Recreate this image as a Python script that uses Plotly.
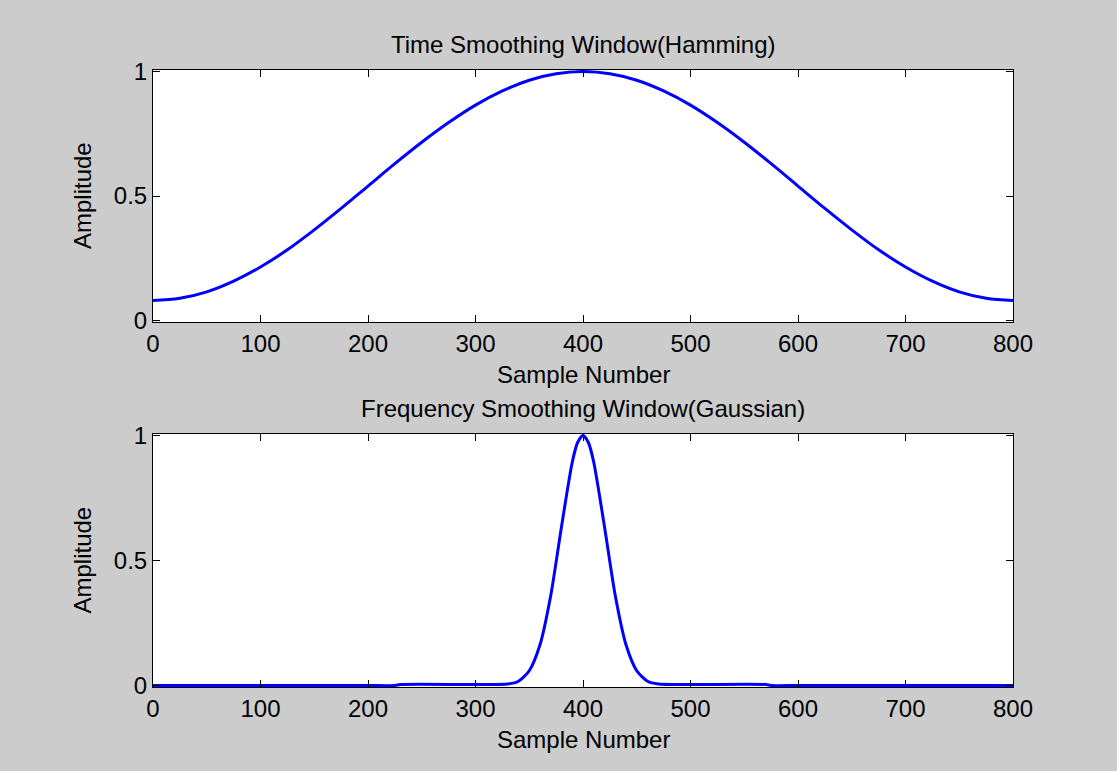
import plotly.graph_objects as go
from plotly.subplots import make_subplots

# Time smoothing window (Hamming), sampled every 25 samples
time_x = [0, 25, 50, 75, 100, 125, 150, 175, 200, 225, 250, 275, 300, 325, 350, 375,
          400, 425, 450, 475, 500, 525, 550, 575, 600, 625, 650, 675, 700, 725, 750, 775, 800]
time_y = [0.08, 0.089, 0.115, 0.158, 0.215, 0.284, 0.364, 0.45, 0.54, 0.63, 0.716, 0.795,
          0.865, 0.922, 0.965, 0.991, 1.0, 0.991, 0.965, 0.922, 0.865, 0.795, 0.716, 0.63,
          0.54, 0.45, 0.364, 0.284, 0.215, 0.158, 0.115, 0.089, 0.08]

# Frequency smoothing window (Gaussian), centred on sample 400
freq_x = [0, 100, 200, 225, 230, 300, 330, 340, 350, 360, 370, 380, 390, 395, 400, 405,
          410, 420, 430, 440, 450, 460, 470, 500, 570, 575, 600, 700, 800]
freq_y = [0.0, 0.0, 0.0, 0.0, 0.004, 0.004, 0.006, 0.017, 0.059, 0.163, 0.36, 0.635, 0.893,
          0.972, 1.0, 0.972, 0.893, 0.635, 0.36, 0.163, 0.059, 0.017, 0.006, 0.004, 0.004,
          0.0, 0.0, 0.0, 0.0]

x_ticks = [0, 100, 200, 300, 400, 500, 600, 700, 800]
y_ticks = [0, 0.5, 1]

titles = ["Time Smoothing Window(Hamming)", "Frequency Smoothing Window(Gaussian)"]
x_label = "Sample Number"
y_label = "Amplitude"

W, H = 1117, 771
FONT = "Liberation Sans, Arial, Helvetica, sans-serif"
FS = 24

fig = make_subplots(rows=2, cols=1)
fig.add_trace(go.Scatter(x=time_x, y=time_y, mode="lines", line_shape="spline",
                         line=dict(color="#0000ff", width=3)), row=1, col=1)
fig.add_trace(go.Scatter(x=freq_x, y=freq_y, mode="lines", line_shape="spline",
                         line=dict(color="#0000ff", width=3, smoothing=0.7)), row=2, col=1)

x_dom = [153 / W, 1013 / W]
y_doms = [[1 - 322 / H, 1 - 70 / H], [1 - 687 / H, 1 - 434 / H]]

axis_common = dict(showgrid=False, zeroline=False, showline=True, linecolor="black",
                   linewidth=1, mirror="ticks", ticks="inside", ticklen=7,
                   tickcolor="black", tickwidth=1, automargin=False,
                   tickfont=dict(family=FONT, size=FS, color="black"))

for i, (xa, ya) in enumerate([("xaxis", "yaxis"), ("xaxis2", "yaxis2")]):
    fig.layout[xa].update(domain=x_dom, range=[0, 800], tickvals=x_ticks,
                          ticktext=[str(v) for v in x_ticks], **axis_common)
    fig.layout[ya].update(domain=y_doms[i], range=[-0.006, 1.006], tickvals=y_ticks,
                          ticktext=["0", "0.5", "1"], **axis_common)

annotations = []
for i, dom in enumerate(y_doms):
    xc = (x_dom[0] + x_dom[1]) / 2
    annotations.append(dict(text=titles[i], x=xc, y=dom[1], xref="paper", yref="paper",
                            xanchor="center", yanchor="bottom", yshift=10, showarrow=False,
                            font=dict(family=FONT, size=FS, color="black")))
    annotations.append(dict(text=x_label, x=xc, y=dom[0], xref="paper", yref="paper",
                            xanchor="center", yanchor="top", yshift=-37, showarrow=False,
                            font=dict(family=FONT, size=FS, color="black")))
    annotations.append(dict(text=y_label, x=x_dom[0], y=(dom[0] + dom[1]) / 2,
                            xref="paper", yref="paper", xanchor="center", yanchor="middle",
                            xshift=-71, textangle=-90, showarrow=False,
                            font=dict(family=FONT, size=FS, color="black")))

fig.update_layout(width=W, height=H,
                  margin=dict(l=0, r=0, t=0, b=0, pad=0, autoexpand=False),
                  paper_bgcolor="#cccccc", plot_bgcolor="white", showlegend=False,
                  annotations=annotations)

fig.write_html("out.html")
